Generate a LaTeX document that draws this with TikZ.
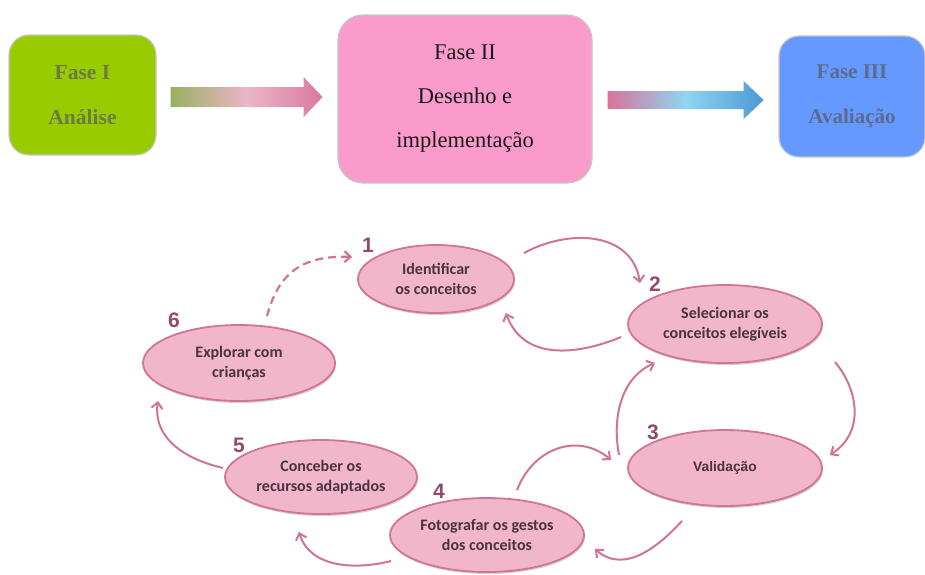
\documentclass[tikz,border=0pt]{standalone}
\usepackage{fontspec}
\setmainfont{Liberation Serif}
\newfontfamily\calfont{Carlito}
\newfontfamily\arifont{Liberation Sans}
\usetikzlibrary{shapes.geometric,arrows.meta,calc,shadows}
\definecolor{greenF}{HTML}{99CC00}
\definecolor{pinkF}{HTML}{FA9BCC}
\definecolor{blueF}{HTML}{6699FF}
\definecolor{oliveT}{HTML}{6C7A45}
\definecolor{blueT}{HTML}{5A6B8E}
\definecolor{ellF}{HTML}{F1B6C9}
\definecolor{ellB}{HTML}{D2739A}
\definecolor{arrC}{HTML}{CF7399}
\definecolor{numC}{HTML}{8E4B6E}
\definecolor{txtD}{HTML}{4A3340}
\definecolor{gA1}{HTML}{98B060}
\definecolor{gA2}{HTML}{EBB5C8}
\definecolor{gA3}{HTML}{D9799F}
\definecolor{gB1}{HTML}{D8739A}
\definecolor{gB2}{HTML}{8ED6F0}
\definecolor{gB3}{HTML}{4C98D6}
\begin{document}
\begin{tikzpicture}[x=1pt,y=-1pt,
  phase/.style={rounded corners=20pt, draw=gray!45, line width=1.2pt, align=center, inner sep=0pt},
  bubble/.style={ellipse, draw=ellB, fill=ellF, line width=1.8pt, inner sep=0pt, align=center,
    font=\calfont\bfseries\fontsize{16}{20}\selectfont, text=txtD,
    drop shadow={shadow xshift=1pt, shadow yshift=-2pt, opacity=0.18, fill=black}},
  num/.style={font=\arifont\bfseries\fontsize{21}{21}\selectfont, text=numC, inner sep=0pt},
  conn/.style={draw=arrC, line width=2pt, -{Straight Barb[length=6pt,width=11pt]}}
]
\useasboundingbox (0,0) rectangle (925,574);

% top phases
\node[phase, fill=greenF, minimum width=147pt, minimum height=120pt, text=oliveT,
      font=\bfseries\fontsize{21.5}{45}\selectfont] (p1) at (82.5,95) {Fase I\\Análise};
\node[phase, rounded corners=25pt, fill=pinkF, minimum width=254pt, minimum height=168pt, text=black!90,
      font=\fontsize{22.5}{44}\selectfont] (p2) at (465,99) {Fase II\\Desenho e\\implementação};
\node[phase, fill=blueF, minimum width=146pt, minimum height=121pt, text=blueT,
      font=\bfseries\fontsize{21}{45}\selectfont] (p3) at (852,96.5) {Fase III\\Avaliação};

\shade[left color=gA1, right color=gA3, middle color=gA2]
  ([shift={(14,-8)}]p1.east) -- ++(133,0) -- ++(0,-10) -- ++(19,20) -- ++(-19,20) -- ++(0,-10) -- ++(-133,0) -- cycle;
\shade[left color=gB1, right color=gB3, middle color=gB2]
  ([shift={(15,-8)}]p2.east) -- ++(136,0) -- ++(0,-10) -- ++(20,19) -- ++(-20,19) -- ++(0,-10) -- ++(-136,0) -- cycle;

% cycle
\node[bubble, minimum width=156pt, minimum height=68pt] (e1) at (436,279) {Identificar\\os conceitos};
\node[bubble, minimum width=194pt, minimum height=78pt] (e2) at (725,324) {Selecionar os\\conceitos elegíveis};
\node[bubble, minimum width=194pt, minimum height=76pt, font=\arifont\bfseries\fontsize{13.8}{16}\selectfont] (e3) at (725,468) {Validação};
\node[bubble, minimum width=194pt, minimum height=74pt] (e4) at (487,535) {Fotografar os gestos\\dos conceitos};
\node[bubble, minimum width=192pt, minimum height=74pt] (e5) at (321,477) {Conceber os\\recursos adaptados};
\node[bubble, minimum width=192pt, minimum height=76pt] (e6) at (239,363) {Explorar com\\crianças};

\node[num] (n1) at (368,245) {1};
\node[num] (n2) at (655,284) {2};
\node[num] (n3) at (653,432) {3};
\node[num] (n4) at (439,491) {4};
\node[num] (n5) at (239,445) {5};
\node[num] (n6) at (174,320) {6};

\draw[conn] ([shift={(9,-26)}]e1.east) .. controls (570,228) and (632,232) .. ([shift={(-85,-1)}]e2.north);
\draw[conn] ([shift={(-6,13)}]e2.west) .. controls (585,352) and (525,365) .. ([shift={(-9,34)}]e1.east);
\draw[conn] ([shift={(12,38)}]e2.east) .. controls (855,385) and (868,430) .. ([shift={(7,-13)}]e3.east);
\draw[conn] ([shift={(-8,-13)}]e3.west) .. controls (612,420) and (620,378) .. ([shift={(-70,-1)}]e2.south);
\draw[conn] ([shift={(30,-7)}]e4.north) .. controls (533,448) and (578,432) .. ([shift={(-16,-8)}]e3.west);
\draw[conn] ([shift={(-43,14)}]e3.south) .. controls (660,545) and (625,575) .. ([shift={(10,14)}]e4.east);
\draw[conn] ([shift={(2,26)}]e4.west) .. controls (355,570) and (310,568) .. ([shift={(-22,17)}]e5.south);
\draw[conn] ([shift={(-1,-9)}]e5.west) .. controls (180,458) and (153,435) .. ([shift={(-81,-1)}]e6.south);
\draw[conn, line width=2.2pt, dash pattern=on 8pt off 5pt] ([shift={(28,-8)}]e6.north) .. controls (278,275) and (300,255) .. ([shift={(-5,-22)}]e1.west);
\end{tikzpicture}
\end{document}
